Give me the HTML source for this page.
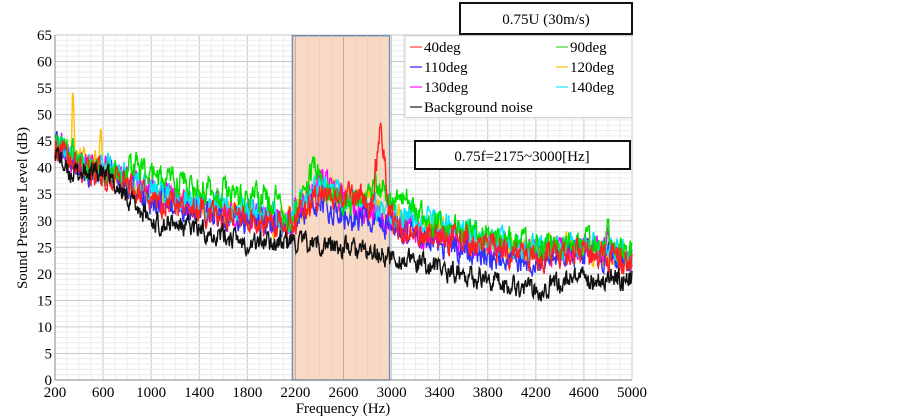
<!DOCTYPE html><html><head><style>body{margin:0;background:#fff}svg{display:block}text{font-family:"Liberation Serif",serif}</style></head><body>
<svg id="s" width="903" height="416" xmlns="http://www.w3.org/2000/svg"></svg>
<script>
var s=document.getElementById('s');var h='';
function X(f){return 55+(f-200)*577/4800;}
function Y(v){return 380-v*345/65;}
for(var f=200;f<=5000;f+=100){var x=X(f);h+='<line x1="'+x+'" y1="35.7" x2="'+x+'" y2="380" stroke="'+((f-200)%400==0?'#c8c8c8':'#ececec')+'" stroke-width="1"/>';}
for(var v=0;v<=65;v++){var y=Y(v);h+='<line x1="55" y1="'+y+'" x2="632" y2="'+y+'" stroke="'+(v%5==0?'#c8c8c8':'#ececec')+'" stroke-width="1"/>';}
h+='<rect x="'+X(2175)+'" y="35.7" width="'+(X(3000)-X(2175)-2)+'" height="344.3" fill="#f8d9c4" stroke="#6f8fb8" stroke-width="1.5"/>';
for(var f=2200;f<3000;f+=100){var x=X(f);h+='<line x1="'+x+'" y1="35.7" x2="'+x+'" y2="380" stroke="'+((f-200)%400==0?'#c0aca0':'#ead0c0')+'"/>';}
h+='<line x1="55" y1="35" x2="55" y2="380" stroke="#888"/><line x1="55" y1="380" x2="632" y2="380" stroke="#888"/>';
for(var v=0;v<=65;v+=5)h+='<text x="52" y="'+(Y(v)+5)+'" font-size="15" text-anchor="end">'+v+'</text>';
for(var f=200;f<=5000;f+=400)h+='<text x="'+X(f)+'" y="397" font-size="15" text-anchor="middle">'+f+'</text>';
h+='<text x="343" y="413" font-size="15" text-anchor="middle">Frequency (Hz)</text>';
h+='<text transform="translate(27,208) rotate(-90)" font-size="15" text-anchor="middle">Sound Pressure Level (dB)</text>';
var seed=7;function rnd(){seed=(seed*16807)%2147483647;return seed/2147483647-0.5;}
function interp(pts,f){for(var i=0;i<pts.length-1;i++)if(f<=pts[i+1][0]){var a=pts[i],b=pts[i+1];return a[1]+(b[1]-a[1])*(f-a[0])/(b[0]-a[0]);}return pts[pts.length-1][1];}
var base=[[200,45],[400,41],[700,39],[1000,35],[1400,33],[1800,31],[2150,30],[2400,36],[2700,33],[3000,30],[3400,28],[3800,26],[4200,24],[4600,25],[5000,23]];
var bg=[[200,44],[300,39],[600,39],[1000,30],[1500,28],[1800,26],[2200,26],[2600,25],[3000,23],[3400,21],[4000,18],[4200,17],[4500,19],[5000,19]];
function G(f,c,w,a){var t=(f-c)/w;return a*Math.exp(-t*t);}
function series(col,pts,extra,amp,sd){seed=sd;var d='';var sm=0;for(var f=200;f<=5000;f+=5){sm=sm*0.45+rnd()*amp;var v=interp(pts,f)+sm+(extra?extra(f):0);d+=(f==200?'M':'L')+X(f).toFixed(1)+','+Y(v).toFixed(1);}h+='<path d="'+d+'" fill="none" stroke="'+col+'" stroke-width="1.4"/>';}
series('#ffc000',base,function(f){return G(f,350,10,14)+G(f,580,12,9)+G(f,2750,150,2)+G(f,3100,100,1);},4.5,11);
series('#ff00ff',base,function(f){return G(f,2420,80,2)-G(f,3400,400,1.5)+G(f,4800,10,5);},4.5,23);
series('#3030ff',base,function(f){return -1-G(f,2600,200,2)-G(f,3600,500,1.5);},4.5,37);
series('#00e5ff',base,function(f){return 0.5+G(f,3300,400,1);},4.5,51);
series('#00e000',base,function(f){return (f>800&&f<2100?3.5:0)+G(f,2350,50,6)+G(f,2900,150,5)+G(f,3150,100,3)+G(f,4800,12,6)+(f>3000?1:0);},4.5,67);
series('#ff2020',base,function(f){return G(f,2910,55,16)+G(f,2700,120,3)-1;},4.5,83);
series('#111',bg,null,3.5,99);
h+='<rect x="405" y="35.7" width="227" height="82" fill="#fff" stroke="#ccc"/>';
var L=[['#ff6060','40deg',410,52],['#60e060','90deg',556,52],['#5050ff','110deg',410,72],['#ffc840','120deg',556,72],['#ff40ff','130deg',410,92],['#40f0ff','140deg',556,92],['#444','Background noise',410,112]];
for(var i=0;i<L.length;i++){var c=L[i][0],t=L[i][1],x=L[i][2],y=L[i][3];h+='<line x1="'+x+'" y1="'+(y-5)+'" x2="'+(x+12)+'" y2="'+(y-5)+'" stroke="'+c+'" stroke-width="1.5"/><text x="'+(x+14)+'" y="'+y+'" font-size="15">'+t+'</text>';}
h+='<rect x="460" y="3" width="172" height="31" fill="#fff" stroke="#111" stroke-width="2"/><text x="546" y="24" font-size="15" text-anchor="middle">0.75U (30m/s)</text>';
h+='<rect x="415" y="141" width="215" height="28" fill="#fff" stroke="#111" stroke-width="2"/><text x="522" y="161" font-size="15" text-anchor="middle">0.75f=2175~3000[Hz]</text>';
s.innerHTML=h;
</script></body></html>
